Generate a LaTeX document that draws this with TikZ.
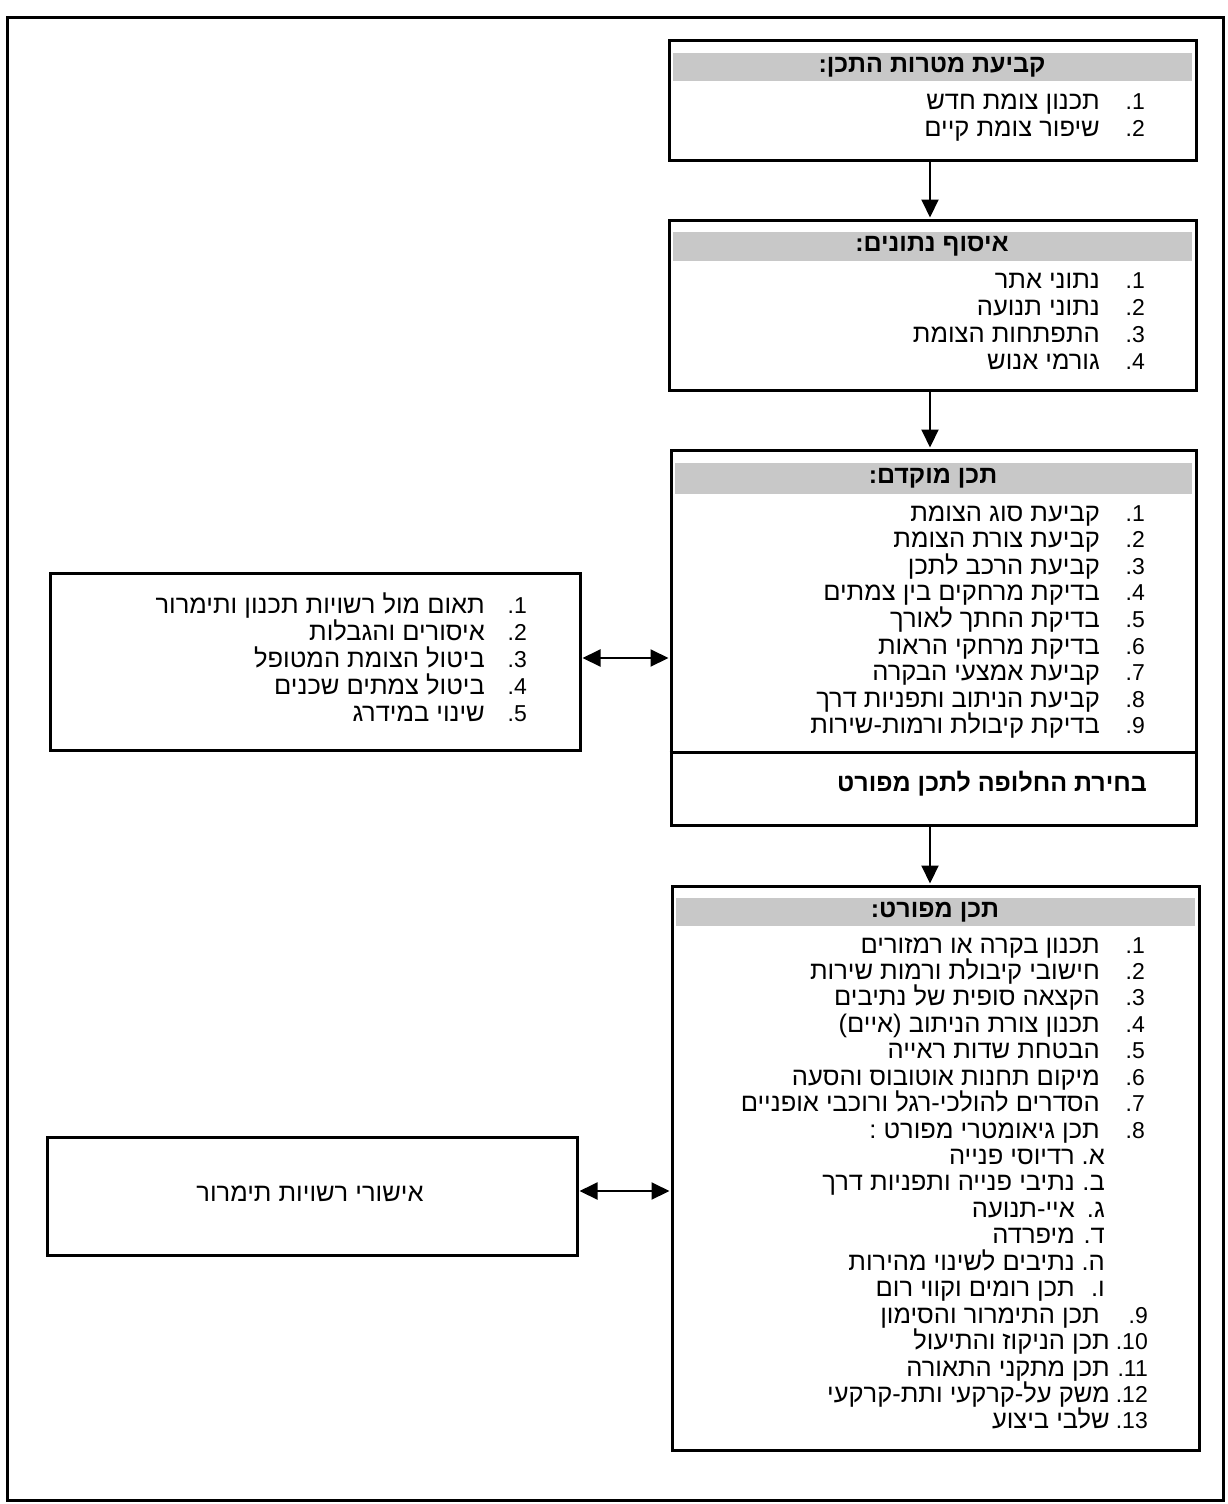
\documentclass[tikz,border=0pt]{standalone}
\usepackage{fontspec}
\setmainfont{Liberation Sans}
\newfontfamily\heb[Script=Hebrew]{Liberation Sans}
\TeXXeTstate=1
\usetikzlibrary{arrows.meta}
\newcommand\RL[1]{{\heb\beginR #1\endR}}
\definecolor{bandgray}{HTML}{C8C8C8}
\begin{document}
\begin{tikzpicture}[x=1pt,y=-1pt,
  box/.style={draw, line width=3pt, inner sep=0pt},
  band/.style={fill=bandgray, inner sep=0pt, font=\heb\bfseries\fontsize{25}{28}\selectfont},
  num/.style={anchor=base east, inner sep=0pt, font=\fontsize{23}{26}\selectfont},
  itm/.style={anchor=base east, inner sep=0pt, font=\heb\fontsize{25.5}{28}\selectfont},
  arr/.style={line width=2pt, -{Triangle[length=18pt,width=17pt]}, shorten >=1pt},
  darr/.style={line width=2pt, {Triangle[length=18pt,width=17pt]}-{Triangle[length=18pt,width=17pt]}, shorten >=1pt, shorten <=1pt}]
\useasboundingbox (0,0) rectangle (1227,1504);
% outer frame
\draw[line width=3pt] (7,18) rectangle (1223,1500);

% box 1
\node[box, minimum width=527pt, minimum height=120pt] (b1) at (932.5,100.5) {};
\node[band, minimum width=519pt, minimum height=28pt] (h1) at (932,67) {\RL{קביעת מטרות התכן:}};
\foreach \t [count=\i] in {תכנון צומת חדש, שיפור צומת קיים} {
  \node[num] (b1n\i) at (1145,{82+27*\i}) {.\i};
  \node[itm] (b1t\i) at (1100,{82+27*\i}) {\RL{\t}};
}

% box 2
\node[box, minimum width=527pt, minimum height=170pt] (b2) at (932.5,305) {};
\node[band, minimum width=519pt, minimum height=29pt] (h2) at (932,246) {\RL{איסוף נתונים:}};
\foreach \t [count=\i] in {נתוני אתר, נתוני תנועה, התפתחות הצומת, גורמי אנוש} {
  \node[num] (b2n\i) at (1145,{261+27*\i}) {.\i};
  \node[itm] (b2t\i) at (1100,{261+27*\i}) {\RL{\t}};
}

% box 3
\node[box, minimum width=525pt, minimum height=375pt] (b3) at (933.5,637.5) {};
\node[band, minimum width=517pt, minimum height=31pt] (h3) at (933,478) {\RL{תכן מוקדם:}};
\foreach \t [count=\i] in {קביעת סוג הצומת, קביעת צורת הצומת, קביעת הרכב לתכן, בדיקת מרחקים בין צמתים, בדיקת החתך לאורך, בדיקת מרחקי הראות, קביעת אמצעי הבקרה, קביעת הניתוב ותפניות דרך, בדיקת קיבולת ורמות-שירות} {
  \node[num] (b3n\i) at (1145,{494.4+26.6*\i}) {.\i};
  \node[itm] (b3t\i) at (1100,{494.4+26.6*\i}) {\RL{\t}};
}
\draw[line width=3pt] (b3.west |- 0,752) -- (b3.east |- 0,752);
\node[itm, font=\heb\bfseries\fontsize{25}{28}\selectfont] (b3f) at (1147,791) {\RL{בחירת החלופה לתכן מפורט}};

% box 4
\node[box, minimum width=527pt, minimum height=564pt] (b4) at (935.5,1168) {};
\node[band, minimum width=519pt, minimum height=28pt] (h4) at (935,912) {\RL{תכן מפורט:}};
\foreach \t [count=\i] in {תכנון בקרה או רמזורים, חישובי קיבולת ורמות שירות, הקצאה סופית של נתיבים, תכנון צורת הניתוב (איים), הבטחת שדות ראייה, מיקום תחנות אוטובוס והסעה, הסדרים להולכי-רגל ורוכבי אופניים, תכן גיאומטרי מפורט :} {
  \node[num] (b4n\i) at (1145,{926.56+26.44*\i}) {.\i};
  \node[itm] (b4t\i) at (1100,{926.56+26.44*\i}) {\RL{\t}};
}
\foreach \l/\t [count=\i] in {א/רדיוסי פנייה, ב/נתיבי פנייה ותפניות דרך, ג/איי-תנועה, ד/מיפרדה, ה/נתיבים לשינוי מהירות, ו/תכן רומים וקווי רום} {
  \node[itm] (b4l\i) at (1105,{1138.08+26.44*\i}) {\l.};
  \node[itm] (b4s\i) at (1075,{1138.08+26.44*\i}) {\RL{\t}};
}
\node[num] (b4n9) at (1148,1323.2) {.9};
\node[itm] (b4t9) at (1100,1323.2) {\RL{תכן התימרור והסימון}};
\foreach \t [count=\i from 10] in {תכן הניקוז והתיעול, תכן מתקני התאורה, משק על-קרקעי ותת-קרקעי, שלבי ביצוע} {
  \node[num] (b4n\i) at (1148,{1323.2+26.44*(\i-9)}) {.\i};
  \node[itm] (b4t\i) at (1110,{1323.2+26.44*(\i-9)}) {\RL{\t}};
}

% left box 1
\node[box, minimum width=530pt, minimum height=177pt] (l1) at (315,661.5) {};
\foreach \t [count=\i] in {תאום מול רשויות תכנון ותימרור, איסורים והגבלות, ביטול הצומת המטופל, ביטול צמתים שכנים, שינוי במידרג} {
  \node[num] (l1n\i) at (527,{586+27*\i}) {.\i};
  \node[itm] (l1t\i) at (485,{586+27*\i}) {\RL{\t}};
}

% left box 2
\node[box, minimum width=530pt, minimum height=118pt] (l2) at (312,1196) {};
\node[itm, anchor=base] (l2t) at (310,1201) {\RL{אישורי רשויות תימרור}};

% connectors
\draw[arr] (b1.south -| 930,0) -- (b2.north -| 930,0);
\draw[arr] (b2.south -| 930,0) -- (b3.north -| 930,0);
\draw[arr] (b3.south -| 930,0) -- (b4.north -| 930,0);
\draw[darr] (l1.east |- 0,658) -- (b3.west |- 0,658);
\draw[darr] (l2.east |- 0,1191) -- (b4.west |- 0,1191);
\end{tikzpicture}
\end{document}
